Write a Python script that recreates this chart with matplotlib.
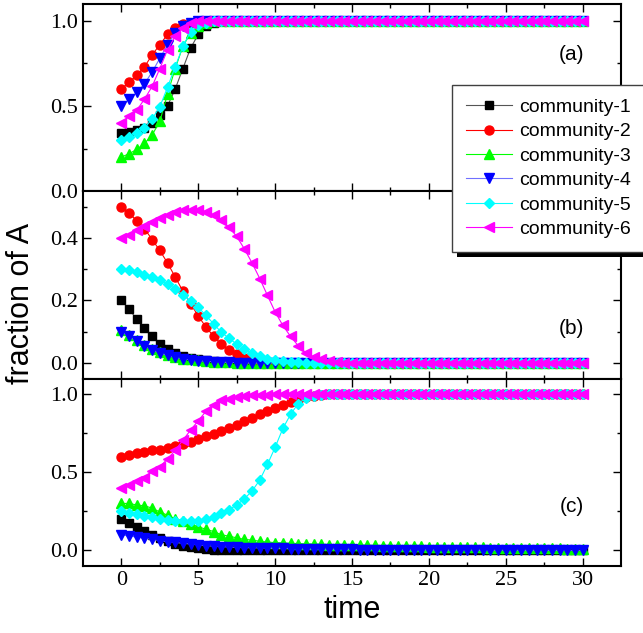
import numpy as np
import matplotlib
matplotlib.use("Agg")
import matplotlib.pyplot as plt
from matplotlib.patches import Rectangle

# sampled times (every 0.5)
time = np.arange(0, 30.5, 0.5)

labels = ["community-1", "community-2", "community-3",
          "community-4", "community-5", "community-6"]
panel_names = ["(a)", "(b)", "(c)"]

# panel (a)
a_c1 = [0.34, 0.35, 0.36, 0.37, 0.40, 0.45, 0.50, 0.60, 0.72, 0.84,
        0.92, 0.97, 0.99, 1.0, 1.0, 1.0, 1.0, 1.0, 1.0, 1.0,
        1.0, 1.0, 1.0, 1.0, 1.0, 1.0, 1.0, 1.0, 1.0, 1.0,
        1.0, 1.0, 1.0, 1.0, 1.0, 1.0, 1.0, 1.0, 1.0, 1.0,
        1.0, 1.0, 1.0, 1.0, 1.0, 1.0, 1.0, 1.0, 1.0, 1.0,
        1.0, 1.0, 1.0, 1.0, 1.0, 1.0, 1.0, 1.0, 1.0, 1.0,
        1.0]
a_c2 = [0.60, 0.64, 0.68, 0.73, 0.80, 0.86, 0.92, 0.96, 0.98, 0.99,
        1.0, 1.0, 1.0, 1.0, 1.0, 1.0, 1.0, 1.0, 1.0, 1.0,
        1.0, 1.0, 1.0, 1.0, 1.0, 1.0, 1.0, 1.0, 1.0, 1.0,
        1.0, 1.0, 1.0, 1.0, 1.0, 1.0, 1.0, 1.0, 1.0, 1.0,
        1.0, 1.0, 1.0, 1.0, 1.0, 1.0, 1.0, 1.0, 1.0, 1.0,
        1.0, 1.0, 1.0, 1.0, 1.0, 1.0, 1.0, 1.0, 1.0, 1.0,
        1.0]
a_c3 = [0.20, 0.22, 0.245, 0.28, 0.33, 0.41, 0.57, 0.72, 0.85, 0.93,
        0.97, 0.99, 1.0, 1.0, 1.0, 1.0, 1.0, 1.0, 1.0, 1.0,
        1.0, 1.0, 1.0, 1.0, 1.0, 1.0, 1.0, 1.0, 1.0, 1.0,
        1.0, 1.0, 1.0, 1.0, 1.0, 1.0, 1.0, 1.0, 1.0, 1.0,
        1.0, 1.0, 1.0, 1.0, 1.0, 1.0, 1.0, 1.0, 1.0, 1.0,
        1.0, 1.0, 1.0, 1.0, 1.0, 1.0, 1.0, 1.0, 1.0, 1.0,
        1.0]
a_c4 = [0.50, 0.54, 0.58, 0.63, 0.70, 0.78, 0.86, 0.93, 0.97, 0.99,
        1.0, 1.0, 1.0, 1.0, 1.0, 1.0, 1.0, 1.0, 1.0, 1.0,
        1.0, 1.0, 1.0, 1.0, 1.0, 1.0, 1.0, 1.0, 1.0, 1.0,
        1.0, 1.0, 1.0, 1.0, 1.0, 1.0, 1.0, 1.0, 1.0, 1.0,
        1.0, 1.0, 1.0, 1.0, 1.0, 1.0, 1.0, 1.0, 1.0, 1.0,
        1.0, 1.0, 1.0, 1.0, 1.0, 1.0, 1.0, 1.0, 1.0, 1.0,
        1.0]
a_c5 = [0.30, 0.32, 0.34, 0.37, 0.425, 0.495, 0.61, 0.73, 0.85, 0.935,
        0.975, 0.99, 1.0, 1.0, 1.0, 1.0, 1.0, 1.0, 1.0, 1.0,
        1.0, 1.0, 1.0, 1.0, 1.0, 1.0, 1.0, 1.0, 1.0, 1.0,
        1.0, 1.0, 1.0, 1.0, 1.0, 1.0, 1.0, 1.0, 1.0, 1.0,
        1.0, 1.0, 1.0, 1.0, 1.0, 1.0, 1.0, 1.0, 1.0, 1.0,
        1.0, 1.0, 1.0, 1.0, 1.0, 1.0, 1.0, 1.0, 1.0, 1.0,
        1.0]
a_c6 = [0.40, 0.44, 0.475, 0.54, 0.615, 0.72, 0.83, 0.91, 0.96, 0.99,
        1.0, 1.0, 1.0, 1.0, 1.0, 1.0, 1.0, 1.0, 1.0, 1.0,
        1.0, 1.0, 1.0, 1.0, 1.0, 1.0, 1.0, 1.0, 1.0, 1.0,
        1.0, 1.0, 1.0, 1.0, 1.0, 1.0, 1.0, 1.0, 1.0, 1.0,
        1.0, 1.0, 1.0, 1.0, 1.0, 1.0, 1.0, 1.0, 1.0, 1.0,
        1.0, 1.0, 1.0, 1.0, 1.0, 1.0, 1.0, 1.0, 1.0, 1.0,
        1.0]

# panel (b)
b_c1 = [0.20, 0.172, 0.14, 0.112, 0.085, 0.062, 0.045, 0.032, 0.023, 0.017,
        0.012, 0.008, 0.005, 0.003, 0.002, 0.001, 0.0, 0.0, 0.0, 0.0,
        0.0, 0.0, 0.0, 0.0, 0.0, 0.0, 0.0, 0.0, 0.0, 0.0,
        0.0, 0.0, 0.0, 0.0, 0.0, 0.0, 0.0, 0.0, 0.0, 0.0,
        0.0, 0.0, 0.0, 0.0, 0.0, 0.0, 0.0, 0.0, 0.0, 0.0,
        0.0, 0.0, 0.0, 0.0, 0.0, 0.0, 0.0, 0.0, 0.0, 0.0,
        0.0]
b_c2 = [0.50, 0.48, 0.455, 0.43, 0.395, 0.36, 0.32, 0.275, 0.23, 0.19,
        0.15, 0.115, 0.085, 0.06, 0.04, 0.027, 0.017, 0.01, 0.006, 0.003,
        0.002, 0.001, 0.0, 0.0, 0.0, 0.0, 0.0, 0.0, 0.0, 0.0,
        0.0, 0.0, 0.0, 0.0, 0.0, 0.0, 0.0, 0.0, 0.0, 0.0,
        0.0, 0.0, 0.0, 0.0, 0.0, 0.0, 0.0, 0.0, 0.0, 0.0,
        0.0, 0.0, 0.0, 0.0, 0.0, 0.0, 0.0, 0.0, 0.0, 0.0,
        0.0]
b_c3 = [0.105, 0.088, 0.072, 0.058, 0.045, 0.034, 0.026, 0.019, 0.014, 0.011,
        0.008, 0.006, 0.004, 0.003, 0.002, 0.001, 0.0, 0.0, 0.0, 0.0,
        0.0, 0.0, 0.0, 0.0, 0.0, 0.0, 0.0, 0.0, 0.0, 0.0,
        0.0, 0.0, 0.0, 0.0, 0.0, 0.0, 0.0, 0.0, 0.0, 0.0,
        0.0, 0.0, 0.0, 0.0, 0.0, 0.0, 0.0, 0.0, 0.0, 0.0,
        0.0, 0.0, 0.0, 0.0, 0.0, 0.0, 0.0, 0.0, 0.0, 0.0,
        0.0]
b_c4 = [0.10, 0.085, 0.069, 0.055, 0.042, 0.032, 0.024, 0.018, 0.013, 0.010,
        0.007, 0.005, 0.004, 0.003, 0.002, 0.001, 0.0, 0.0, 0.0, 0.0,
        0.0, 0.0, 0.0, 0.0, 0.0, 0.0, 0.0, 0.0, 0.0, 0.0,
        0.0, 0.0, 0.0, 0.0, 0.0, 0.0, 0.0, 0.0, 0.0, 0.0,
        0.0, 0.0, 0.0, 0.0, 0.0, 0.0, 0.0, 0.0, 0.0, 0.0,
        0.0, 0.0, 0.0, 0.0, 0.0, 0.0, 0.0, 0.0, 0.0, 0.0,
        0.0]
b_c5 = [0.30, 0.297, 0.29, 0.283, 0.276, 0.265, 0.252, 0.238, 0.217, 0.199,
        0.178, 0.152, 0.125, 0.098, 0.079, 0.06, 0.044, 0.031, 0.022, 0.014,
        0.009, 0.006, 0.004, 0.002, 0.001, 0.0, 0.0, 0.0, 0.0, 0.0,
        0.0, 0.0, 0.0, 0.0, 0.0, 0.0, 0.0, 0.0, 0.0, 0.0,
        0.0, 0.0, 0.0, 0.0, 0.0, 0.0, 0.0, 0.0, 0.0, 0.0,
        0.0, 0.0, 0.0, 0.0, 0.0, 0.0, 0.0, 0.0, 0.0, 0.0,
        0.0]
b_c6 = [0.40, 0.41, 0.425, 0.44, 0.45, 0.463, 0.474, 0.483, 0.489, 0.49,
        0.49, 0.484, 0.474, 0.458, 0.434, 0.405, 0.365, 0.32, 0.27, 0.216,
        0.163, 0.12, 0.085, 0.055, 0.032, 0.019, 0.011, 0.006, 0.003, 0.001,
        0.0, 0.0, 0.0, 0.0, 0.0, 0.0, 0.0, 0.0, 0.0, 0.0,
        0.0, 0.0, 0.0, 0.0, 0.0, 0.0, 0.0, 0.0, 0.0, 0.0,
        0.0, 0.0, 0.0, 0.0, 0.0, 0.0, 0.0, 0.0, 0.0, 0.0,
        0.0]

# panel (c)
c_c1 = [0.20, 0.175, 0.15, 0.125, 0.10, 0.08, 0.06, 0.043, 0.03, 0.02,
        0.013, 0.009, 0.005, 0.003, 0.002, 0.001, 0.0, 0.0, 0.0, 0.0,
        0.0, 0.0, 0.0, 0.0, 0.0, 0.0, 0.0, 0.0, 0.0, 0.0,
        0.0, 0.0, 0.0, 0.0, 0.0, 0.0, 0.0, 0.0, 0.0, 0.0,
        0.0, 0.0, 0.0, 0.0, 0.0, 0.0, 0.0, 0.0, 0.0, 0.0,
        0.0, 0.0, 0.0, 0.0, 0.0, 0.0, 0.0, 0.0, 0.0, 0.0,
        0.0]
c_c2 = [0.60, 0.61, 0.62, 0.63, 0.64, 0.645, 0.655, 0.67, 0.68, 0.695,
        0.71, 0.73, 0.745, 0.765, 0.785, 0.805, 0.83, 0.85, 0.87, 0.89,
        0.91, 0.93, 0.95, 0.965, 0.98, 0.99, 0.995, 1.0, 1.0, 1.0,
        1.0, 1.0, 1.0, 1.0, 1.0, 1.0, 1.0, 1.0, 1.0, 1.0,
        1.0, 1.0, 1.0, 1.0, 1.0, 1.0, 1.0, 1.0, 1.0, 1.0,
        1.0, 1.0, 1.0, 1.0, 1.0, 1.0, 1.0, 1.0, 1.0, 1.0,
        1.0]
c_c3 = [0.30, 0.30, 0.29, 0.285, 0.27, 0.245, 0.225, 0.20, 0.19, 0.17,
        0.15, 0.135, 0.12, 0.10, 0.09, 0.08, 0.07, 0.065, 0.058, 0.053,
        0.049, 0.047, 0.045, 0.043, 0.041, 0.040, 0.038, 0.037, 0.036, 0.035,
        0.034, 0.033, 0.032, 0.031, 0.030, 0.029, 0.028, 0.027, 0.026, 0.025,
        0.024, 0.023, 0.022, 0.021, 0.020, 0.019, 0.018, 0.018, 0.017, 0.016,
        0.016, 0.015, 0.014, 0.014, 0.013, 0.013, 0.012, 0.012, 0.011, 0.011,
        0.010]
c_c4 = [0.10, 0.092, 0.085, 0.077, 0.07, 0.062, 0.055, 0.05, 0.045, 0.04,
        0.035, 0.03, 0.026, 0.023, 0.021, 0.019, 0.017, 0.016, 0.015, 0.014,
        0.013, 0.012, 0.011, 0.010, 0.009, 0.008, 0.008, 0.007, 0.007, 0.006,
        0.006, 0.005, 0.005, 0.005, 0.004, 0.004, 0.004, 0.003, 0.003, 0.003,
        0.003, 0.002, 0.002, 0.002, 0.002, 0.002, 0.001, 0.001, 0.001, 0.001,
        0.001, 0.001, 0.001, 0.001, 0.001, 0.0, 0.0, 0.0, 0.0, 0.0,
        0.0]
c_c5 = [0.25, 0.24, 0.23, 0.22, 0.21, 0.20, 0.195, 0.19, 0.188, 0.188,
        0.19, 0.20, 0.215, 0.24, 0.26, 0.29, 0.33, 0.38, 0.45, 0.55,
        0.66, 0.78, 0.87, 0.94, 0.975, 0.99, 0.995, 1.0, 1.0, 1.0,
        1.0, 1.0, 1.0, 1.0, 1.0, 1.0, 1.0, 1.0, 1.0, 1.0,
        1.0, 1.0, 1.0, 1.0, 1.0, 1.0, 1.0, 1.0, 1.0, 1.0,
        1.0, 1.0, 1.0, 1.0, 1.0, 1.0, 1.0, 1.0, 1.0, 1.0,
        1.0]
c_c6 = [0.40, 0.42, 0.445, 0.466, 0.505, 0.535, 0.585, 0.64, 0.705, 0.77,
        0.83, 0.89, 0.93, 0.96, 0.97, 0.98, 0.99, 0.993, 0.995, 0.997,
        1.0, 1.0, 1.0, 1.0, 1.0, 1.0, 1.0, 1.0, 1.0, 1.0,
        1.0, 1.0, 1.0, 1.0, 1.0, 1.0, 1.0, 1.0, 1.0, 1.0,
        1.0, 1.0, 1.0, 1.0, 1.0, 1.0, 1.0, 1.0, 1.0, 1.0,
        1.0, 1.0, 1.0, 1.0, 1.0, 1.0, 1.0, 1.0, 1.0, 1.0,
        1.0]

panels = [[a_c1, a_c2, a_c3, a_c4, a_c5, a_c6],
          [b_c1, b_c2, b_c3, b_c4, b_c5, b_c6],
          [c_c1, c_c2, c_c3, c_c4, c_c5, c_c6]]

marker_colors = ["#000000", "#ff0000", "#00ff00", "#0000ff", "#00ffff", "#ff00ff"]
line_colors = ["#555555", "#ff0000", "#00ff00", "#7070ff", "#00ffff", "#ff00ff"]
markers = ["s", "o", "^", "v", "D", "<"]
msizes = [6, 6.5, 7, 7, 5.5, 7]

plt.rcParams["font.family"] = "Liberation Serif"
sans = "Liberation Sans"

fig, axes = plt.subplots(3, 1, sharex=True, figsize=(6.43, 6.33), dpi=100)
fig.subplots_adjust(left=0.129, right=0.966, top=0.994, bottom=0.106, hspace=0)

ylims = [(0.0, 1.1), (-0.05, 0.55), (-0.1, 1.1)]
yticks = [[0.0, 0.5, 1.0], [0.0, 0.2, 0.4], [0.0, 0.5, 1.0]]
yminor = [[0.25, 0.75], [0.1, 0.3, 0.5], [0.25, 0.75]]
label_y = [0.8, 0.11, 0.28]

for k, ax in enumerate(axes):
    for j in range(6):
        ax.plot(time, panels[k][j], color=line_colors[j], lw=0.8,
                marker=markers[j], ms=msizes[j], mfc=marker_colors[j],
                mec=marker_colors[j], label=labels[j])
    ax.set_xlim(-2.5, 32.5)
    ax.set_ylim(*ylims[k])
    ax.set_yticks(yticks[k])
    ax.set_yticks(yminor[k], minor=True)
    ax.set_yticklabels(["%.1f" % v for v in yticks[k]])
    ax.set_xticks([0, 5, 10, 15, 20, 25, 30])
    ax.set_xticks([2.5, 7.5, 12.5, 17.5, 22.5, 27.5], minor=True)
    ax.tick_params(which="both", direction="in", top=True, right=True,
                   width=1, labelsize=16)
    ax.tick_params(which="major", length=6)
    ax.tick_params(which="minor", length=3)
    for s in ax.spines.values():
        s.set_linewidth(1.5)
    ax.text(29.3, label_y[k], panel_names[k], fontsize=15, family=sans,
            ha="center", va="center")

axes[2].set_xlabel("time", fontsize=22, family=sans, labelpad=4)
fig.text(0.033, 0.52, "fraction of A", rotation=90, fontsize=22, family=sans,
         ha="center", va="center")

handles, _ = axes[0].get_legend_handles_labels()
leg = fig.legend(handles, labels, loc="upper left", bbox_to_anchor=(0.703, 0.866),
                 prop={"family": sans, "size": 14}, fancybox=False,
                 edgecolor="#404040", labelspacing=0.35, handlelength=2.4,
                 handletextpad=0.35, borderpad=0.7, borderaxespad=0,
                 framealpha=1)
leg.get_frame().set_linewidth(1)

# solid black drop shadow behind the legend box
fig.canvas.draw()
bb = leg.get_window_extent()
shadow = Rectangle((bb.x0 + 5, bb.y0 - 5), bb.width, bb.height, transform=None,
                   facecolor="black", edgecolor="none", zorder=4.9)
fig.add_artist(shadow)

plt.savefig("out.png", dpi=100)
